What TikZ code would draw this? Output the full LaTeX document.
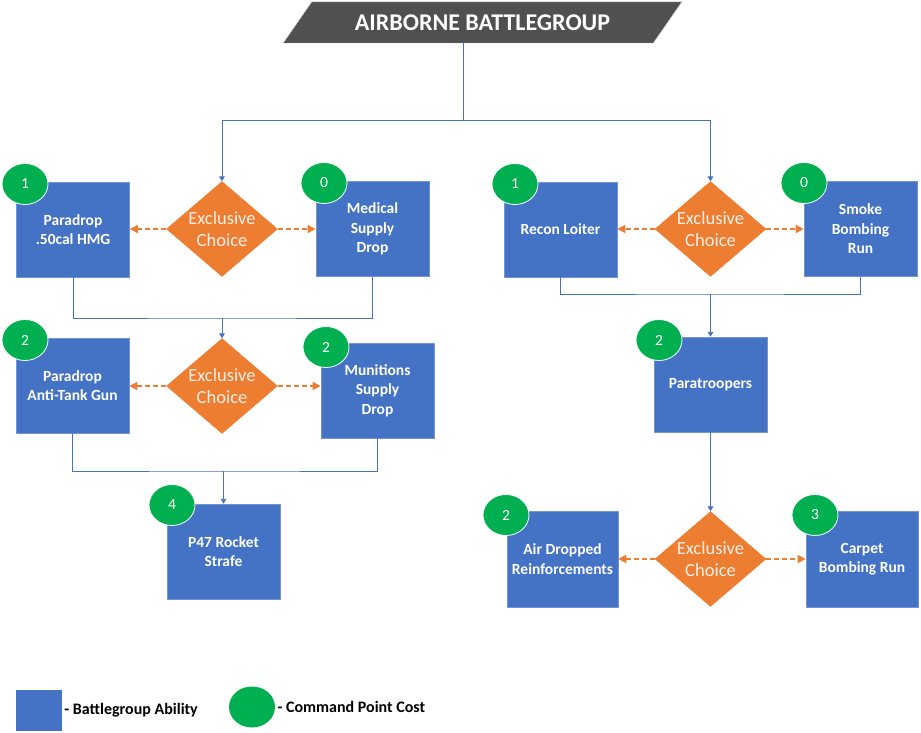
\documentclass[tikz,border=0pt]{standalone}
\usepackage{fontspec}
\setmainfont{Carlito}
\usepackage{tikz}
\usetikzlibrary{arrows.meta, positioning, shapes.geometric}
\definecolor{abilityblue}{HTML}{4472C4}
\definecolor{choiceorange}{HTML}{ED7D31}
\definecolor{costgreen}{HTML}{00B050}
\definecolor{titlegray}{HTML}{505050}
\colorlet{boxedge}{abilityblue!75!white}

\begin{document}
\begin{tikzpicture}[x=1pt, y=-1pt, >=Triangle,
    ability/.style={rectangle, fill=abilityblue, draw=boxedge, line width=0.6pt, text=white,
      minimum width=113pt, minimum height=95pt, align=center, inner sep=1pt,
      font=\bfseries\fontsize{15.5}{19.5}\selectfont},
    choice/.style={diamond, fill=choiceorange, draw=choiceorange, inner sep=0pt, aspect=1.17,
      minimum width=111pt, minimum height=95pt, align=center, text=white!88!choiceorange,
      font=\fontsize{18.5}{22}\selectfont},
    cost/.style={ellipse, fill=costgreen, draw=white, line width=0.8pt, text=white,
      minimum width=46pt, minimum height=41pt, inner sep=0pt, font=\fontsize{15.5}{17}\selectfont},
    link/.style={draw=abilityblue, line width=0.8pt},
    pick/.style={draw=choiceorange, line width=1.4pt, dash pattern=on 5pt off 3pt, ->,
      >={Triangle[length=8pt, width=8pt]}}]
    \useasboundingbox (0,0) rectangle (921,733);

    % Title banner
    \node[trapezium, trapezium left angle=46, trapezium right angle=134, trapezium stretches=true,
      fill=titlegray, draw=gray!70, minimum width=399pt, minimum height=41pt, text=white,
      font=\bfseries\fontsize{24}{26}\selectfont] (title) at (482.5,22.5) {AIRBORNE BATTLEGROUP};

    % Left branch, first choice
    \node[ability] (hmg) at (73,229.5) {Paradrop\\.50cal HMG};
    \node[choice] (dia1) at (222,229) {Exclusive\\Choice};
    \node[ability] (med) at (372.5,229) {Medical\\Supply\\Drop};

    % Left branch, second choice
    \node[ability] (atg) at (72.5,385.5) {Paradrop\\Anti-Tank Gun};
    \node[choice] (dia2) at (222,386) {Exclusive\\Choice};
    \node[ability] (mun) at (377.5,390.5) {Munitions\\Supply\\Drop};

    \node[ability] (p47) at (223.5,551.5) {P47 Rocket\\Strafe};

    % Right branch
    \node[ability] (recon) at (560.5,229.5) {Recon Loiter};
    \node[choice] (dia3) at (710.5,229) {Exclusive\\Choice};
    \node[ability] (smoke) at (860.5,229) {Smoke\\Bombing\\Run};

    \node[ability] (para) at (710.5,384.5) {Paratroopers};

    \node[ability, minimum width=111pt, minimum height=96pt] (air) at (562.5,559) {Air Dropped\\Reinforcements};
    \node[choice] (dia4) at (710.5,559) {Exclusive\\Choice};
    \node[ability, minimum width=112pt, minimum height=96pt] (carpet) at (862,559) {Carpet\\Bombing Run};

    % Command point costs
    \node[cost] (c1) at (25,184) {1};
    \node[cost] (c2) at (324,183) {0};
    \node[cost] (c3) at (25,340) {2};
    \node[cost] (c4) at (326,347) {2};
    \node[cost] (c5) at (172,505) {4};
    \node[cost] (c6) at (515,184) {1};
    \node[cost] (c7) at (804,183) {0};
    \node[cost] (c8) at (659,340) {2};
    \node[cost] (c9) at (506,515) {2};
    \node[cost] (c10) at (815,515) {3};

    % Connectors
    \coordinate (stem) at ([xshift=-5pt]title.bottom side);
    \coordinate (split) at (stem |- 0,120);
    \draw[link] (stem) -- (split);
    \draw[link, ->] (split) -| (dia1.north);
    \draw[link, ->] (split) -| (dia3.north);

    \coordinate (join1) at (dia2.north |- 0,318);
    \draw[link] (hmg.south) |- (join1) -| (med.south);
    \draw[link, ->] (join1) -- (dia2.north);

    \coordinate (join2) at (p47.north |- 0,471);
    \draw[link] (atg.south) |- (join2) -| (mun.south);
    \draw[link, ->] (join2) -- (p47.north);

    \coordinate (join3) at (para.north |- 0,294);
    \draw[link] (recon.south) |- (join3) -| (smoke.south);
    \draw[link, ->] (join3) -- (para.north);
    \draw[link, ->] (para.south) -- (dia4.north);

    % Exclusive picks
    \draw[pick] (dia1.west) -- (dia1.west -| hmg.east);
    \draw[pick] (dia1.east) -- (dia1.east -| med.west);
    \draw[pick] (dia2.west) -- (dia2.west -| atg.east);
    \draw[pick] (dia2.east) -- (dia2.east -| mun.west);
    \draw[pick] (dia3.west) -- (dia3.west -| recon.east);
    \draw[pick] (dia3.east) -- (dia3.east -| smoke.west);
    \draw[pick] (dia4.west) -- (dia4.west -| air.east);
    \draw[pick] (dia4.east) -- (dia4.east -| carpet.west);

    % Legend
    \node[rectangle, fill=abilityblue, minimum width=46pt, minimum height=41pt] (keybox) at (39,710.5) {};
    \node[anchor=west, inner sep=2pt, font=\bfseries\fontsize{16}{18}\selectfont] (keyboxtext) at (keybox.east) {- Battlegroup Ability};
    \node[cost, draw=none] (keycost) at (252,707) {};
    \node[anchor=west, inner sep=2pt, font=\bfseries\fontsize{16}{18}\selectfont] (keycosttext) at (keycost.east) {- Command Point Cost};
  \end{tikzpicture}
\end{document}
